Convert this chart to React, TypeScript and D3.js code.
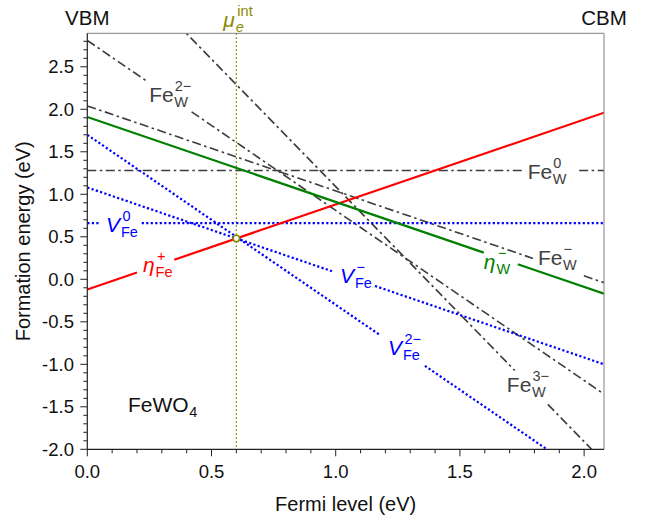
import React, { useEffect, useRef } from "react";
import * as d3 from "d3";

const W = 648;
const H = 519;

// Axis domains and ticks
const xDomain: [number, number] = [0, 2.08];
const yDomain: [number, number] = [-2, 2.894];
const xMajorTicks = [0, 0.5, 1.0, 1.5, 2.0];
const yMajorTicks = [-2.0, -1.5, -1.0, -0.5, 0.0, 0.5, 1.0, 1.5, 2.0, 2.5];
const minorStep = 0.1;

// Defects: formation energy at VBM (eV) and charge state (slope)
const defectIds = ["FeW0", "FeW1", "FeW2", "FeW3", "VFe0", "VFe1", "VFe2", "etaFe", "etaW"];
const energyAtVBM = [1.28, 2.04, 2.81, 4.09, 0.66, 1.08, 1.70, -0.12, 1.91];
const charges = [0, -1, -2, -3, 0, -1, -2, 1, -1];
const lineKind = ["dashdot", "dashdot", "dashdot", "dashdot", "dot", "dot", "dot", "solid", "solid"];
const lineColor = ["#3c3c3c", "#3c3c3c", "#3c3c3c", "#3c3c3c", "#0000ff", "#0000ff", "#0000ff", "#ff0000", "#008000"];
// Fermi-level ranges where the line is interrupted by its label
const gapStart = [1.753, 1.794, 0.24, 1.721, 0.05, 0.985, 1.178, 0.2, 1.596];
const gapEnd = [1.98, 1.999, 0.42, 1.854, 0.219, 1.158, 1.359, 0.35, 1.733];

// Labels
const labelMain = ["Fe", "Fe", "Fe", "Fe", "V", "V", "V", "\u03B7", "\u03B7"];
const labelItalic = [false, false, false, false, true, true, true, true, true];
const labelSub = ["W", "W", "W", "W", "Fe", "Fe", "Fe", "Fe", "W"];
const labelSup = ["0", "\u2212", "2\u2212", "3\u2212", "0", "\u2212", "2\u2212", "+", "\u2212"];
const labelEF = [1.773, 1.814, 0.249, 1.689, 0.075, 1.017, 1.21, 0.224, 1.596];
const labelE = [1.18, 0.168, 2.086, -1.326, 0.556, -0.042, -0.889, 0.087, 0.121];
const labelColor = ["#404040", "#404040", "#404040", "#404040", "#0000ff", "#0000ff", "#0000ff", "#ff0000", "#008000"];

const muInt = 0.6;
const compound = { main: "FeWO", sub: "4", ef: 0.164, e: -1.56 };

const FONT = "Arial, 'Liberation Sans', sans-serif";

export default function App() {
  const ref = useRef<SVGSVGElement | null>(null);

  useEffect(() => {
    const svg = d3.select(ref.current);
    svg.selectAll("*").remove();

    const x = d3.scaleLinear().domain(xDomain).range([87.3, 604]);
    const y = d3.scaleLinear().domain(yDomain).range([449.3, 33.3]);
    const [x0, x1] = x.range();
    const [yb, yt] = y.range();

    svg
      .append("defs")
      .append("clipPath")
      .attr("id", "plotclip")
      .append("rect")
      .attr("x", x0)
      .attr("y", yt)
      .attr("width", x1 - x0)
      .attr("height", yb - yt);

    const plot = svg.append("g").attr("clip-path", "url(#plotclip)");

    // mu_e^int vertical line
    plot
      .append("line")
      .attr("x1", x(muInt))
      .attr("x2", x(muInt))
      .attr("y1", yt)
      .attr("y2", yb)
      .attr("stroke", "#8a8a00")
      .attr("stroke-width", 1.3)
      .attr("stroke-dasharray", "1.6,2.4");

    const line = d3
      .line<number>()
      .x((d) => x(d[0]))
      .y((d) => y(d[1]));

    defectIds.forEach((id, i) => {
      const f = (ef: number) => energyAtVBM[i] + charges[i] * ef;
      const segs: [number, number][] = [
        [xDomain[0], gapStart[i]],
        [gapEnd[i], xDomain[1]],
      ];
      segs.forEach(([a, b]) => {
        const p = plot
          .append("path")
          .attr("d", line([[a, f(a)], [b, f(b)]] as any))
          .attr("fill", "none")
          .attr("stroke", lineColor[i]);
        if (lineKind[i] === "dashdot") {
          p.attr("stroke-width", 1.6).attr("stroke-dasharray", "9,3.5,2.5,3.5");
        } else if (lineKind[i] === "dot") {
          p.attr("stroke-width", 2.2).attr("stroke-dasharray", "2.2,2.3");
        } else {
          p.attr("stroke-width", 2.2);
        }
      });
    });

    // intersection marker
    const eMu = energyAtVBM[7] + charges[7] * muInt;
    svg
      .append("circle")
      .attr("cx", x(muInt))
      .attr("cy", y(eMu))
      .attr("r", 3.2)
      .attr("fill", "#ffffff")
      .attr("stroke", "#8a8a00")
      .attr("stroke-width", 1.6);

    // frame
    const frame = svg.append("g");
    frame.append("line").attr("x1", x0).attr("x2", x1).attr("y1", yt).attr("y2", yt).attr("stroke", "#808080").attr("stroke-width", 1);
    frame.append("line").attr("x1", x1).attr("x2", x1).attr("y1", yt).attr("y2", yb).attr("stroke", "#808080").attr("stroke-width", 1);
    frame.append("line").attr("x1", x0).attr("x2", x0).attr("y1", yt).attr("y2", yb).attr("stroke", "#222").attr("stroke-width", 1.2);
    frame.append("line").attr("x1", x0).attr("x2", x1).attr("y1", yb).attr("y2", yb).attr("stroke", "#222").attr("stroke-width", 1.2);

    // ticks
    const ax = svg.append("g");
    const xMinor = d3.range(Math.round(xDomain[0] / minorStep), Math.floor(xDomain[1] / minorStep + 1e-6) + 1).map((k) => k * minorStep);
    xMinor.forEach((v) => {
      const major = xMajorTicks.some((m) => Math.abs(m - v) < 1e-6);
      ax.append("line")
        .attr("x1", x(v)).attr("x2", x(v))
        .attr("y1", yb).attr("y2", yb + (major ? 7 : 4))
        .attr("stroke", "#222").attr("stroke-width", 1);
    });
    const yMinor = d3.range(Math.round(yDomain[0] / minorStep), Math.floor(yDomain[1] / minorStep + 1e-6) + 1).map((k) => k * minorStep);
    yMinor.forEach((v) => {
      const major = yMajorTicks.some((m) => Math.abs(m - v) < 1e-6);
      ax.append("line")
        .attr("x1", x0 - (major ? 7 : 4)).attr("x2", x0)
        .attr("y1", y(v)).attr("y2", y(v))
        .attr("stroke", "#222").attr("stroke-width", 1);
    });
    xMajorTicks.forEach((v) => {
      ax.append("text")
        .attr("x", x(v)).attr("y", 478)
        .attr("text-anchor", "middle")
        .attr("font-family", FONT).attr("font-size", 18.5).attr("fill", "#111")
        .text(v.toFixed(1));
    });
    yMajorTicks.forEach((v) => {
      ax.append("text")
        .attr("x", 74).attr("y", y(v))
        .attr("dy", "0.36em")
        .attr("text-anchor", "end")
        .attr("font-family", FONT).attr("font-size", 18.5).attr("fill", "#111")
        .text(v.toFixed(1));
    });

    // axis titles
    svg.append("text")
      .attr("x", (x0 + x1) / 2).attr("y", 511)
      .attr("text-anchor", "middle")
      .attr("font-family", FONT).attr("font-size", 20).attr("fill", "#111")
      .text("Fermi level (eV)");
    svg.append("text")
      .attr("transform", `translate(30,${(yt + yb) / 2}) rotate(-90)`)
      .attr("text-anchor", "middle")
      .attr("font-family", FONT).attr("font-size", 20).attr("fill", "#111")
      .text("Formation energy (eV)");

    // VBM / CBM
    svg.append("text").attr("x", x0).attr("y", 25).attr("text-anchor", "middle")
      .attr("font-family", FONT).attr("font-size", 20.5).attr("fill", "#111").text("VBM");
    svg.append("text").attr("x", x1).attr("y", 25).attr("text-anchor", "middle")
      .attr("font-family", FONT).attr("font-size", 20.5).attr("fill", "#111").text("CBM");

    // label helper
    const addLabel = (
      px: number,
      py: number,
      main: string,
      italic: boolean,
      sub: string,
      sup: string,
      color: string,
      subItalic = false
    ) => {
      const g = svg.append("g");
      const t = g.append("text")
        .attr("x", px).attr("y", py)
        .attr("font-family", FONT).attr("font-size", 21)
        .attr("font-style", italic ? "italic" : "normal")
        .attr("fill", color).text(main);
      const w = (t.node() as SVGTextElement).getComputedTextLength();
      const sx = px + w + (italic ? 1 : 0.5);
      if (sub)
        g.append("text").attr("x", sx).attr("y", py + 5)
          .attr("font-family", FONT).attr("font-size", 14.5)
          .attr("font-style", subItalic ? "italic" : "normal")
          .attr("fill", color).text(sub);
      if (sup)
        g.append("text").attr("x", sx + (italic ? 1.5 : 0.5)).attr("y", py - 11)
          .attr("font-family", FONT).attr("font-size", 14.5)
          .attr("fill", color).text(sup);
    };

    defectIds.forEach((id, i) => {
      addLabel(x(labelEF[i]), y(labelE[i]), labelMain[i], labelItalic[i], labelSub[i], labelSup[i], labelColor[i]);
    });
    addLabel(x(compound.ef), y(compound.e), compound.main, false, compound.sub, "", "#111");
    addLabel(x(muInt) - 13, yt - 6, "\u03BC", true, "e", "int", "#8a8a00", true);
  }, []);

  return (
    <svg
      ref={ref}
      width={W}
      height={H}
      style={{ position: "absolute", left: 0, top: 0, background: "#fff" }}
    />
  );
}
